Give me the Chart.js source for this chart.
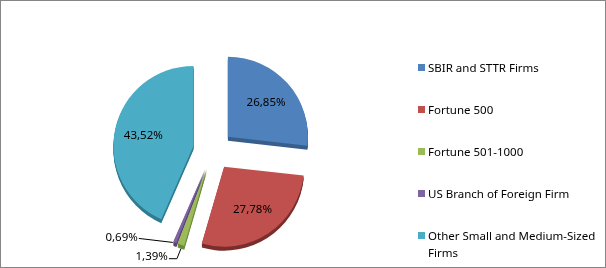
<!DOCTYPE html>
<html><head><meta charset="utf-8">
<script src="https://cdn.jsdelivr.net/npm/chart.js@4.4.0/dist/chart.umd.min.js"></script>
<style>
html,body{margin:0;padding:0;background:#fff;}
#wrap{position:relative;width:606px;height:268px;overflow:hidden;}
canvas{position:absolute;left:0;top:0;}
#legend{position:absolute;left:418px;top:0;font-family:"Noto Sans",sans-serif;font-size:11.5px;color:#000;}
.item{position:absolute;left:0;width:186px;}
.box{position:absolute;left:0;width:7px;height:7px;}
.txt{position:absolute;left:10px;width:176px;line-height:17px;white-space:normal;}
</style></head>
<body><div id="wrap"><canvas id="c" width="606" height="268"></canvas><div id="legend"></div></div>
<script>
const categories = ["SBIR and STTR Firms", "Fortune 500", "Fortune 501-1000", "US Branch of Foreign Firm", "Other Small and Medium-Sized Firms"];
const shares = [26.85, 27.78, 1.39, 0.69, 43.52];
const sliceColors = ["#4F81BD", "#C0504D", "#9BBB59", "#8064A2", "#4BACC6"];
const sideColors = ["#385E8C", "#7A2E2C", "#6E8A3C", "#5A4478", "#2F7C90"];

const EXPLODE = 20, DEPTH = 4;
const FONT = '11.5px "Noto Sans", sans-serif';
const fmt = v => v.toFixed(2).replace('.', ',') + '%';

const explodePlugin = {
  id: 'explode',
  afterDatasetUpdate(chart, args) {
    args.meta.data.forEach(arc => {
      const mid = (arc.startAngle + arc.endAngle) / 2;
      arc.x += Math.cos(mid) * EXPLODE;
      arc.y += Math.sin(mid) * EXPLODE;
    });
  }
};

const framePlugin = {
  id: 'frame',
  beforeDraw(chart) {
    const c = chart.ctx;
    c.save(); c.fillStyle = '#fff'; c.fillRect(0, 0, chart.width, chart.height); c.restore();
  },
  afterDraw(chart) {
    const c = chart.ctx;
    c.save(); c.strokeStyle = '#868686'; c.lineWidth = 1;
    c.strokeRect(0.5, 0.5, chart.width - 1, chart.height - 1); c.restore();
  }
};

const depthPlugin = {
  id: 'depth',
  beforeDatasetsDraw(chart) {
    const c = chart.ctx;
    chart.getDatasetMeta(0).data.forEach((arc, i) => {
      for (let d = 1; d <= DEPTH; d++) {
        c.save();
        c.beginPath();
        c.moveTo(arc.x, arc.y + d);
        c.arc(arc.x, arc.y + d, arc.outerRadius, arc.startAngle, arc.endAngle);
        c.closePath();
        c.fillStyle = sideColors[i];
        c.fill();
        c.restore();
      }
    });
  }
};

const labelPlugin = {
  id: 'labels',
  afterDatasetsDraw(chart) {
    const c = chart.ctx;
    const data = chart.getDatasetMeta(0).data;
    c.save();
    c.font = FONT; c.fillStyle = '#000'; c.textBaseline = 'middle';
    data.forEach((arc, i) => {
      const v = shares[i];
      const mid = (arc.startAngle + arc.endAngle) / 2;
      if (v > 5) {
        const r = arc.outerRadius * 0.64;
        c.textAlign = 'center';
        c.fillText(fmt(v), arc.x + Math.cos(mid) * r, arc.y + Math.sin(mid) * r);
      } else {
        const ax = arc.x + Math.cos(mid) * arc.outerRadius;
        const ay = arc.y + Math.sin(mid) * arc.outerRadius;
        c.strokeStyle = '#000'; c.lineWidth = 1;
        c.textAlign = 'right';
        c.beginPath();
        if (i === 3) {
          c.moveTo(ax - 2, ay); c.lineTo(ax - 36, ay - 4);
          c.stroke();
          c.fillText(fmt(v), ax - 37, ay - 5);
        } else {
          c.moveTo(ax, ay + DEPTH); c.lineTo(ax - 4, ay + 14); c.lineTo(ax - 12, ay + 14);
          c.stroke();
          c.fillText(fmt(v), ax - 13, ay + 12);
        }
      }
    });
    c.restore();
  }
};

new Chart(document.getElementById('c'), {
  type: 'pie',
  data: {
    labels: categories,
    datasets: [{ data: shares, backgroundColor: sliceColors, borderWidth: 0, hoverOffset: 0 }]
  },
  options: {
    responsive: false,
    animation: false,
    layout: { padding: { left: 113, right: 293, top: 70, bottom: 38 } },
    plugins: { legend: { display: false }, tooltip: { enabled: false } }
  },
  plugins: [framePlugin, explodePlugin, depthPlugin, labelPlugin]
});

const legend = document.getElementById('legend');
categories.forEach((name, i) => {
  const cy = 67 + i * 42;
  const item = document.createElement('div');
  item.className = 'item';
  item.style.top = (cy - 8.5) + 'px';
  const box = document.createElement('div');
  box.className = 'box';
  box.style.top = '5px';
  box.style.background = sliceColors[i];
  const txt = document.createElement('div');
  txt.className = 'txt';
  txt.textContent = name;
  item.appendChild(box); item.appendChild(txt);
  legend.appendChild(item);
});
</script>
</body></html>
